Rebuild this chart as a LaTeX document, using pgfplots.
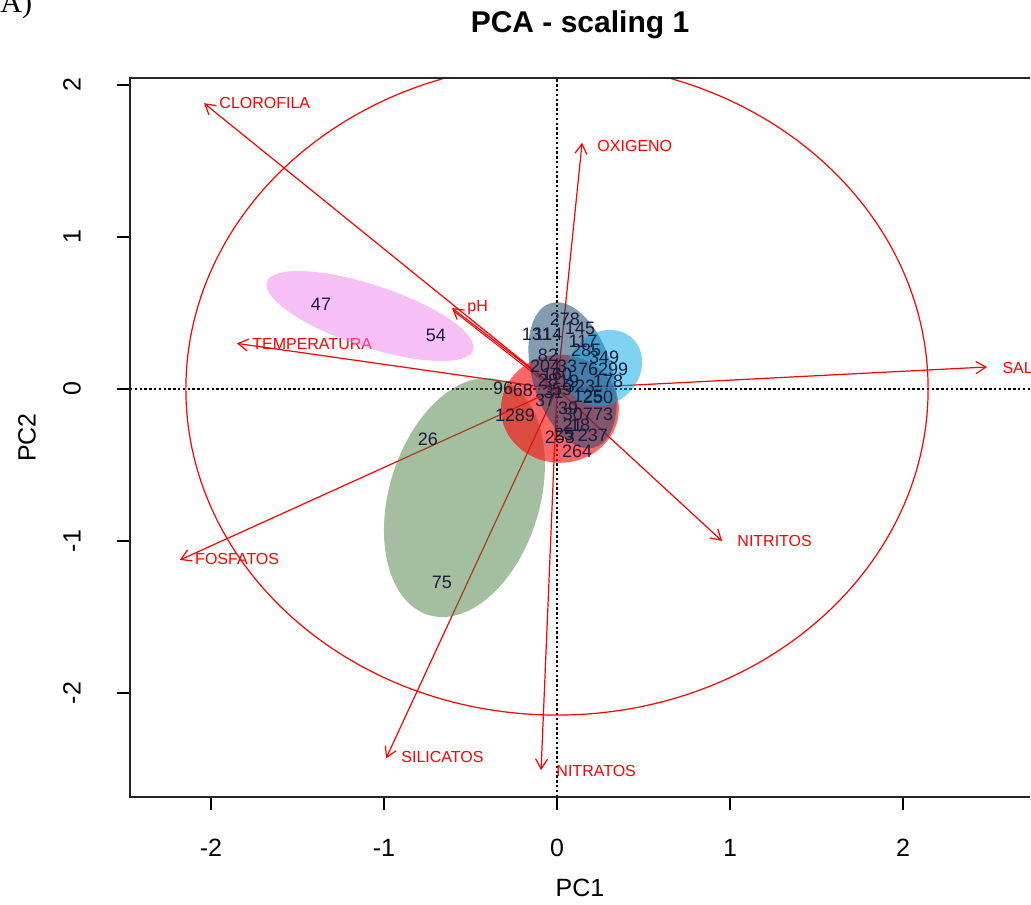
\documentclass[border=0pt]{standalone}
\usepackage{fontspec}
\setmainfont{Liberation Sans}
\newfontfamily\serifA{Liberation Serif}
\usepackage{pgfplots}
\pgfplotsset{compat=1.18}
\usetikzlibrary{arrows.meta}
\definecolor{pinkE}{RGB}{238,130,238}
\definecolor{greenE}{RGB}{72,128,64}
\definecolor{redE}{RGB}{255,0,0}
\definecolor{blueE}{RGB}{0,166,230}
\definecolor{darkE}{RGB}{31,74,112}
\definecolor{ptxt}{RGB}{27,27,58}
\begin{document}
\begin{tikzpicture}
\begin{axis}[
  name=ax,
  scale only axis,
  width=450pt, height=359.5pt,
  xmin=-2.468, xmax=2.734, ymin=-2.684, ymax=2.046,
  axis line style={draw=none},
  xtick={-2,-1,0,1,2}, xticklabels={-2,-1,0,1,2},
  ytick={-2,-1,0,1,2}, yticklabels={-2,-1,0,1,2},
  xtick pos=bottom, ytick pos=left,
  tick align=outside,
  major tick length=6.5pt,
  tick style={black, line width=0.6pt},
  ticklabel style={font=\fontsize{12.5}{15}\selectfont},
  xticklabel style={anchor=center, yshift=-19pt},
  yticklabel style={anchor=center, xshift=-22.5pt, rotate=90},
]
% dotted axes
\addplot[black, line width=0.6pt, dash pattern=on 1.2pt off 1.2pt] coordinates {(0,-2.684) (0,2.046)};
\addplot[black, line width=0.6pt, dash pattern=on 1.2pt off 1.2pt] coordinates {(-2.468,0) (2.734,0)};
% equilibrium circle
\draw[red, line width=0.6pt] (axis cs:0,0) ellipse [x radius=2.145, y radius=2.145];
% point labels
\addplot[only marks, mark=none, nodes near coords, point meta=explicit symbolic,
  every node near coord/.style={anchor=center, inner sep=0pt, text=ptxt, font=\fontsize{9}{10}\selectfont}]
  table[meta=label] {
x y label
-1.364 0.559 47
-0.700 0.355 54
-0.746 -0.329 26
-0.665 -1.270 75
-0.312 0.007 96
-0.197 -0.007 68
-0.300 -0.171 12
-0.185 -0.171 89
0.046 0.461 278
0.133 0.401 145
-0.116 0.362 131
-0.052 0.362 114
0.150 0.316 117
0.168 0.257 285
0.272 0.211 349
0.324 0.132 299
-0.052 0.224 82
-0.069 0.151 204
0.058 0.151 33
0.295 0.053 178
0.133 0.020 323
-0.052 0.059 28
0.237 -0.053 250
-0.069 -0.072 37
0.064 -0.125 39
0.121 -0.164 307
0.266 -0.164 73
0.133 -0.237 18
0.208 -0.303 237
0.017 -0.316 253
0.116 -0.408 264
0.000 0.100 160
0.030 0.000 59
0.180 -0.050 125
-0.020 -0.020 31
0.070 0.050 19
0.180 0.130 76
0.090 -0.240 21
0.040 -0.300 25
};
% arrows
\pgfplotsset{arr/.style={red, line width=0.6pt, -{Straight Barb[length=5pt,width=6pt]}}}
\addplot[arr] coordinates {(0,0) (-2.04,1.88)};
\addplot[arr] coordinates {(0,0) (0.145,1.62)};
\addplot[arr] coordinates {(0,0) (-0.607,0.533)};
\addplot[red, line width=0.5pt] coordinates {(-0.007,-0.0104) (-0.600,0.515)};
\addplot[arr] coordinates {(0,0) (-1.85,0.30)};
\addplot[arr] coordinates {(0,0) (2.486,0.145)};
\addplot[arr] coordinates {(0,0) (0.954,-1.0)};
\addplot[arr] coordinates {(0,0) (-2.18,-1.125)};
\addplot[arr] coordinates {(0,0) (-0.988,-2.43)};
\addplot[arr] coordinates {(0,0) (-0.092,-2.507)};
% arrow labels
\tikzset{al/.style={anchor=west, inner sep=0pt, xshift=7.5pt, text=red, font=\fontsize{8}{9.6}\selectfont}}
\node[al] at (axis cs:-2.04,1.88) {CLOROFILA};
\node[al] at (axis cs:0.145,1.60) {OXIGENO};
\node[al] at (axis cs:-0.607,0.533) {pH};
\node[al] at (axis cs:-1.85,0.295) {TEMPERATURA};
\node[al] at (axis cs:2.486,0.14) {SALINIDAD};
\node[al] at (axis cs:0.954,-1.0) {NITRITOS};
\node[al] at (axis cs:-2.18,-1.12) {FOSFATOS};
\node[al] at (axis cs:-0.988,-2.42) {SILICATOS};
\node[al] at (axis cs:-0.092,-2.51) {NITRATOS};
% group ellipses
\draw[draw=none, fill=greenE, fill opacity=0.5, rotate around={73:(axis cs:-0.535,-0.714)}] (axis cs:-0.535,-0.714) ellipse [x radius=61.4pt, y radius=37.65pt];
\draw[draw=none, fill=pinkE, fill opacity=0.5, rotate around={-18.3:(axis cs:-1.081,0.48)}] (axis cs:-1.081,0.48) ellipse [x radius=54.25pt, y radius=15.5pt];
\draw[draw=none, fill=redE, fill opacity=0.6] (axis cs:0.017,-0.13) ellipse [x radius=29.5pt, y radius=27pt];
\draw[draw=none, fill=darkE, fill opacity=0.55, rotate around={-73:(axis cs:0.09,0.09)}] (axis cs:0.09,0.09) ellipse [x radius=37.7pt, y radius=20pt];
\draw[draw=none, fill=blueE, fill opacity=0.5, rotate around={45:(axis cs:0.272,0.138)}] (axis cs:0.272,0.138) ellipse [x radius=20.5pt, y radius=17.5pt];
\end{axis}
\draw[line width=0.6pt, black!85] (ax.north east) -- (ax.north west) -- (ax.south west) -- (ax.south east);
\node[font=\bfseries\fontsize{15}{18}\selectfont] at ([yshift=26.5pt]ax.north) {PCA - scaling 1};
\node[font=\fontsize{12.5}{15}\selectfont] at ([yshift=-45.5pt]ax.south) {PC1};
\node[rotate=90, font=\fontsize{12.5}{15}\selectfont] at ([xshift=-51.5pt]ax.west) {PC2};
\node[anchor=base west, inner sep=0pt, font=\serifA\fontsize{15}{18}\selectfont] at ([xshift=-65pt, yshift=32.5pt]ax.north west) {A)};
\pgfresetboundingbox
\path[use as bounding box] ([xshift=-65pt,yshift=-53.5pt]ax.south west) rectangle ([xshift=0.5pt,yshift=39pt]ax.north east);
\end{tikzpicture}
\end{document}
